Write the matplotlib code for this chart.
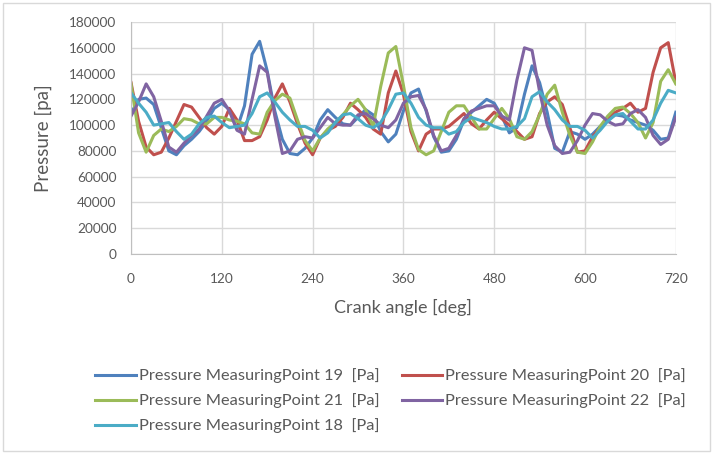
"""Pressure at five measuring points over two crank revolutions."""

import matplotlib

matplotlib.use("Agg")
import matplotlib.pyplot as plt
from matplotlib.patches import Rectangle

# ---------------------------------------------------------------------------
# Data (read off the chart, Pa x 1000, sampled every 10 deg)
# ---------------------------------------------------------------------------

CRANK_ANGLE = list(range(0, 721, 10))

POINT_19 = [109, 120, 121, 116, 98, 80, 77, 84, 89, 95, 103, 113, 117, 112, 97,
            115, 155, 165, 142, 111, 89, 78, 77, 82, 90, 104, 112, 106, 101, 100,
            106, 112, 108, 95, 87, 93, 111, 125, 128, 111, 91, 79, 80, 89, 104,
            110, 115, 120, 117, 107, 94, 98, 124, 146, 133, 110, 82, 79, 95, 93,
            89, 93, 99, 104, 108, 107, 104, 102, 100, 96, 89, 90, 110]
POINT_20 = [133, 103, 83, 77, 79, 90, 103, 116, 114, 106, 98, 93, 99, 113, 104,
            88, 88, 91, 104, 121, 132, 118, 101, 86, 77, 90, 96, 99, 106, 117,
            112, 106, 97, 93, 125, 142, 124, 95, 80, 93, 97, 97, 99, 104, 109,
            101, 97, 104, 110, 105, 100, 95, 89, 91, 109, 118, 122, 116, 98, 79,
            80, 91, 98, 105, 110, 113, 117, 110, 113, 141, 160, 164, 133]
POINT_21 = [132, 94, 79, 92, 97, 95, 99, 105, 104, 101, 101, 106, 106, 104, 103,
            101, 94, 93, 110, 119, 124, 121, 104, 88, 80, 90, 97, 102, 108, 115,
            120, 112, 99, 130, 156, 161, 131, 98, 81, 77, 80, 95, 110, 115, 115,
            106, 97, 97, 105, 113, 105, 91, 89, 95, 108, 124, 131, 110, 92, 79,
            78, 87, 99, 107, 113, 114, 109, 102, 90, 102, 134, 143, 132]
POINT_22 = [107, 118, 132, 122, 103, 83, 79, 86, 92, 97, 107, 117, 120, 111, 96,
            93, 120, 146, 141, 107, 78, 80, 89, 91, 90, 98, 106, 101, 100, 100,
            108, 109, 105, 100, 98, 104, 117, 122, 123, 112, 92, 80, 82, 92, 105,
            111, 113, 115, 115, 107, 104, 135, 160, 158, 126, 100, 84, 78, 79, 88,
            100, 109, 108, 103, 100, 101, 109, 112, 106, 92, 85, 89, 106]
POINT_18 = [125, 117, 110, 100, 101, 102, 95, 89, 93, 101, 106, 107, 102, 98, 99,
            100, 109, 122, 125, 118, 110, 104, 99, 99, 96, 90, 94, 102, 108, 109,
            105, 100, 98, 102, 112, 124, 125, 117, 106, 100, 98, 98, 93, 95, 102,
            106, 104, 102, 99, 97, 97, 99, 105, 122, 126, 118, 112, 104, 99, 99,
            96, 90, 96, 103, 108, 109, 103, 97, 97, 104, 117, 127, 125]

SERIES = [
    ("Pressure MeasuringPoint 19  [Pa]", POINT_19, "#4F81BD"),
    ("Pressure MeasuringPoint 20  [Pa]", POINT_20, "#C0504D"),
    ("Pressure MeasuringPoint 21  [Pa]", POINT_21, "#9BBB59"),
    ("Pressure MeasuringPoint 22  [Pa]", POINT_22, "#8064A2"),
    ("Pressure MeasuringPoint 18  [Pa]", POINT_18, "#4BACC6"),
]

X_TICKS = [0, 120, 240, 360, 480, 600, 720]
Y_TICKS = list(range(0, 180001, 20000))

TEXT_COLOR = "#595959"
GRID_COLOR = "#D9D9D9"

plt.rcParams["font.family"] = ["Lato", "DejaVu Sans"]

fig = plt.figure(figsize=(7.14, 4.54), dpi=100)
ax = fig.add_axes([0.1835, 0.4405, 0.763, 0.511])

lines = {}
for label, values, color in SERIES:
    (line,) = ax.plot(CRANK_ANGLE, [v * 1000 for v in values], color=color,
                      lw=2.2, label=label, solid_joinstyle="round")
    lines[label] = line

ax.set_xlim(0, 720)
ax.set_ylim(0, 180000)
ax.set_xticks(X_TICKS)
ax.set_yticks(Y_TICKS)
ax.grid(True, color=GRID_COLOR, lw=1.0)
ax.set_axisbelow(True)
ax.tick_params(length=0, labelsize=9.8, colors=TEXT_COLOR)
ax.tick_params(axis="x", pad=13.5)
ax.tick_params(axis="y", pad=10.5)
for side in ("top", "right"):
    ax.spines[side].set_visible(False)
for side in ("left", "bottom"):
    ax.spines[side].set_color("#BFBFBF")

ax.set_xlabel("Crank angle [deg]", fontsize=13, color=TEXT_COLOR)
ax.set_ylabel("Pressure [pa]", fontsize=13.5, color=TEXT_COLOR)
ax.xaxis.set_label_coords(0.5, -0.195)
ax.yaxis.set_label_coords(-0.145, 0.5)

# row-major legend order: 19, 20 / 21, 22 / 18
order = [0, 2, 4, 1, 3]
handles = [lines[SERIES[i][0]] for i in order]
labels = [SERIES[i][0] for i in order]
leg = fig.legend(handles, labels, ncol=2, loc="center",
                 bbox_to_anchor=(0.547, 0.117), frameon=False,
                 fontsize=11.8, handlelength=2.45, handletextpad=0.2,
                 columnspacing=1.35, labelspacing=0.62)
for text in leg.get_texts():
    text.set_color(TEXT_COLOR)

fig.patches.append(Rectangle((0.004, 0.006), 0.99, 0.988, transform=fig.transFigure,
                             fill=False, edgecolor="#D9D9D9", lw=1.0))

fig.savefig("out.png", dpi=100)
